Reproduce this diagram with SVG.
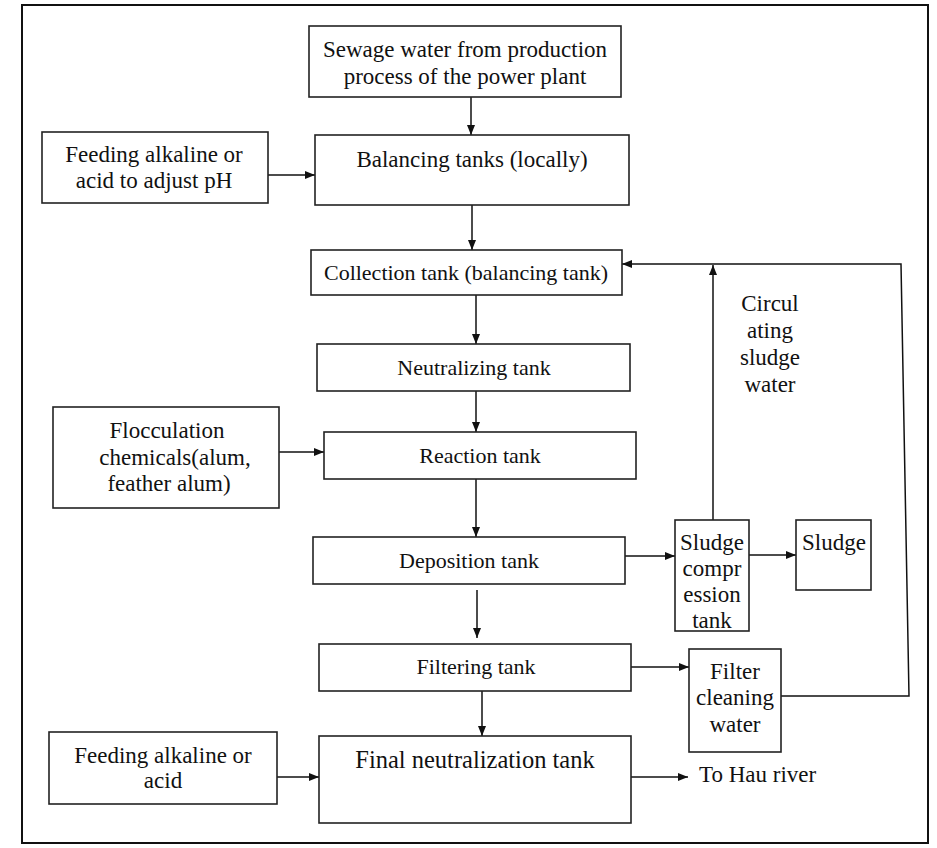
<svg xmlns="http://www.w3.org/2000/svg" width="937" height="848" viewBox="0 0 937 848">
<style>
  .box { fill: #ffffff; stroke: #222222; stroke-width: 1.6; }
  .frame { fill: #ffffff; stroke: #111111; stroke-width: 2; }
  .t { font-family: "Liberation Serif", "Times New Roman", serif; font-size: 23px; fill: #111111; text-anchor: middle; }
  .s { font-size: 22px; }
  .l { text-anchor: start; }
  .c { fill: none; stroke: #111111; stroke-width: 1.5; }
  .arr { marker-end: url(#ah); }
</style>
<defs>
  <marker id="ah" markerUnits="userSpaceOnUse" markerWidth="10" markerHeight="8" refX="10" refY="4" orient="auto">
    <path d="M0,0 L10,4 L0,8 z" fill="#111111"/>
  </marker>
</defs>
<rect class="frame" x="22" y="5" width="906" height="838"/>

<g id="connectors">
  <line class="c arr" x1="471" y1="97" x2="471" y2="135"/>
  <line class="c arr" x1="268" y1="175" x2="315" y2="175"/>
  <line class="c arr" x1="472" y1="205" x2="472" y2="250"/>
  <line class="c arr" x1="476" y1="295" x2="476" y2="344"/>
  <line class="c arr" x1="476" y1="391" x2="476" y2="432"/>
  <line class="c arr" x1="279" y1="452" x2="324" y2="452"/>
  <line class="c arr" x1="476" y1="479" x2="476" y2="537"/>
  <line class="c arr" x1="625" y1="556" x2="675" y2="556"/>
  <line class="c arr" x1="749" y1="555" x2="796" y2="555"/>
  <line class="c arr" x1="713" y1="520" x2="713" y2="265"/>
  <line class="c arr" x1="477" y1="590" x2="477" y2="638"/>
  <line class="c arr" x1="631" y1="667" x2="689" y2="667"/>
  <polyline class="c arr" points="781,696 909,696 901,264 622,264"/>
  <line class="c arr" x1="482" y1="691" x2="482" y2="736"/>
  <line class="c arr" x1="277" y1="777" x2="319" y2="777"/>
  <line class="c arr" x1="631" y1="777" x2="688" y2="777"/>
</g>

<g id="sewage">
  <rect class="box" x="309" y="26" width="312" height="71"/>
  <text class="t" x="465" y="57">Sewage water from production</text>
  <text class="t" x="465" y="84">process of the power plant</text>
</g>
<g id="feeding-ph">
  <rect class="box" x="42" y="132" width="226" height="71"/>
  <text class="t" x="154" y="162">Feeding alkaline or</text>
  <text class="t" x="154" y="188">acid to adjust pH</text>
</g>
<g id="balancing">
  <rect class="box" x="315" y="135" width="314" height="70"/>
  <text class="t" x="472" y="167">Balancing tanks (locally)</text>
</g>
<g id="collection">
  <rect class="box" x="311" y="250" width="311" height="45"/>
  <text class="t s" x="466" y="280">Collection tank (balancing tank)</text>
</g>
<g id="neutralizing">
  <rect class="box" x="317" y="344" width="313" height="47"/>
  <text class="t s" x="474" y="375">Neutralizing tank</text>
</g>
<g id="flocculation">
  <rect class="box" x="53" y="407" width="226" height="101"/>
  <text class="t" x="167" y="438">Flocculation</text>
  <text class="t" x="175" y="465">chemicals(alum,</text>
  <text class="t" x="169" y="491">feather alum)</text>
</g>
<g id="reaction">
  <rect class="box" x="324" y="432" width="312" height="47"/>
  <text class="t s" x="480" y="463">Reaction tank</text>
</g>
<g id="deposition">
  <rect class="box" x="313" y="537" width="312" height="47"/>
  <text class="t s" x="469" y="568">Deposition tank</text>
</g>
<g id="sludge-compression">
  <rect class="box" x="675" y="520" width="74" height="111"/>
  <text class="t" x="712" y="550">Sludge</text>
  <text class="t" x="712" y="576">compr</text>
  <text class="t" x="712" y="602">ession</text>
  <text class="t" x="712" y="628">tank</text>
</g>
<g id="sludge">
  <rect class="box" x="796" y="520" width="75" height="70"/>
  <text class="t" x="834" y="550">Sludge</text>
</g>
<g id="circulating-label">
  <text class="t" x="770" y="311">Circul</text>
  <text class="t" x="770" y="338">ating</text>
  <text class="t" x="770" y="365">sludge</text>
  <text class="t" x="770" y="392">water</text>
</g>
<g id="filtering">
  <rect class="box" x="319" y="644" width="312" height="47"/>
  <text class="t s" x="476" y="674">Filtering tank</text>
</g>
<g id="filter-cleaning">
  <rect class="box" x="689" y="649" width="92" height="103"/>
  <text class="t" x="735" y="679">Filter</text>
  <text class="t" x="735" y="705">cleaning</text>
  <text class="t" x="735" y="732">water</text>
</g>
<g id="feeding-acid">
  <rect class="box" x="49" y="732" width="228" height="72"/>
  <text class="t" x="163" y="763">Feeding alkaline or</text>
  <text class="t" x="163" y="788">acid</text>
</g>
<g id="final">
  <rect class="box" x="319" y="736" width="312" height="87"/>
  <text class="t" x="475" y="768" style="font-size:24.5px">Final neutralization tank</text>
</g>
<g id="hau-river">
  <text class="t l" x="699" y="782">To Hau river</text>
</g>
</svg>
